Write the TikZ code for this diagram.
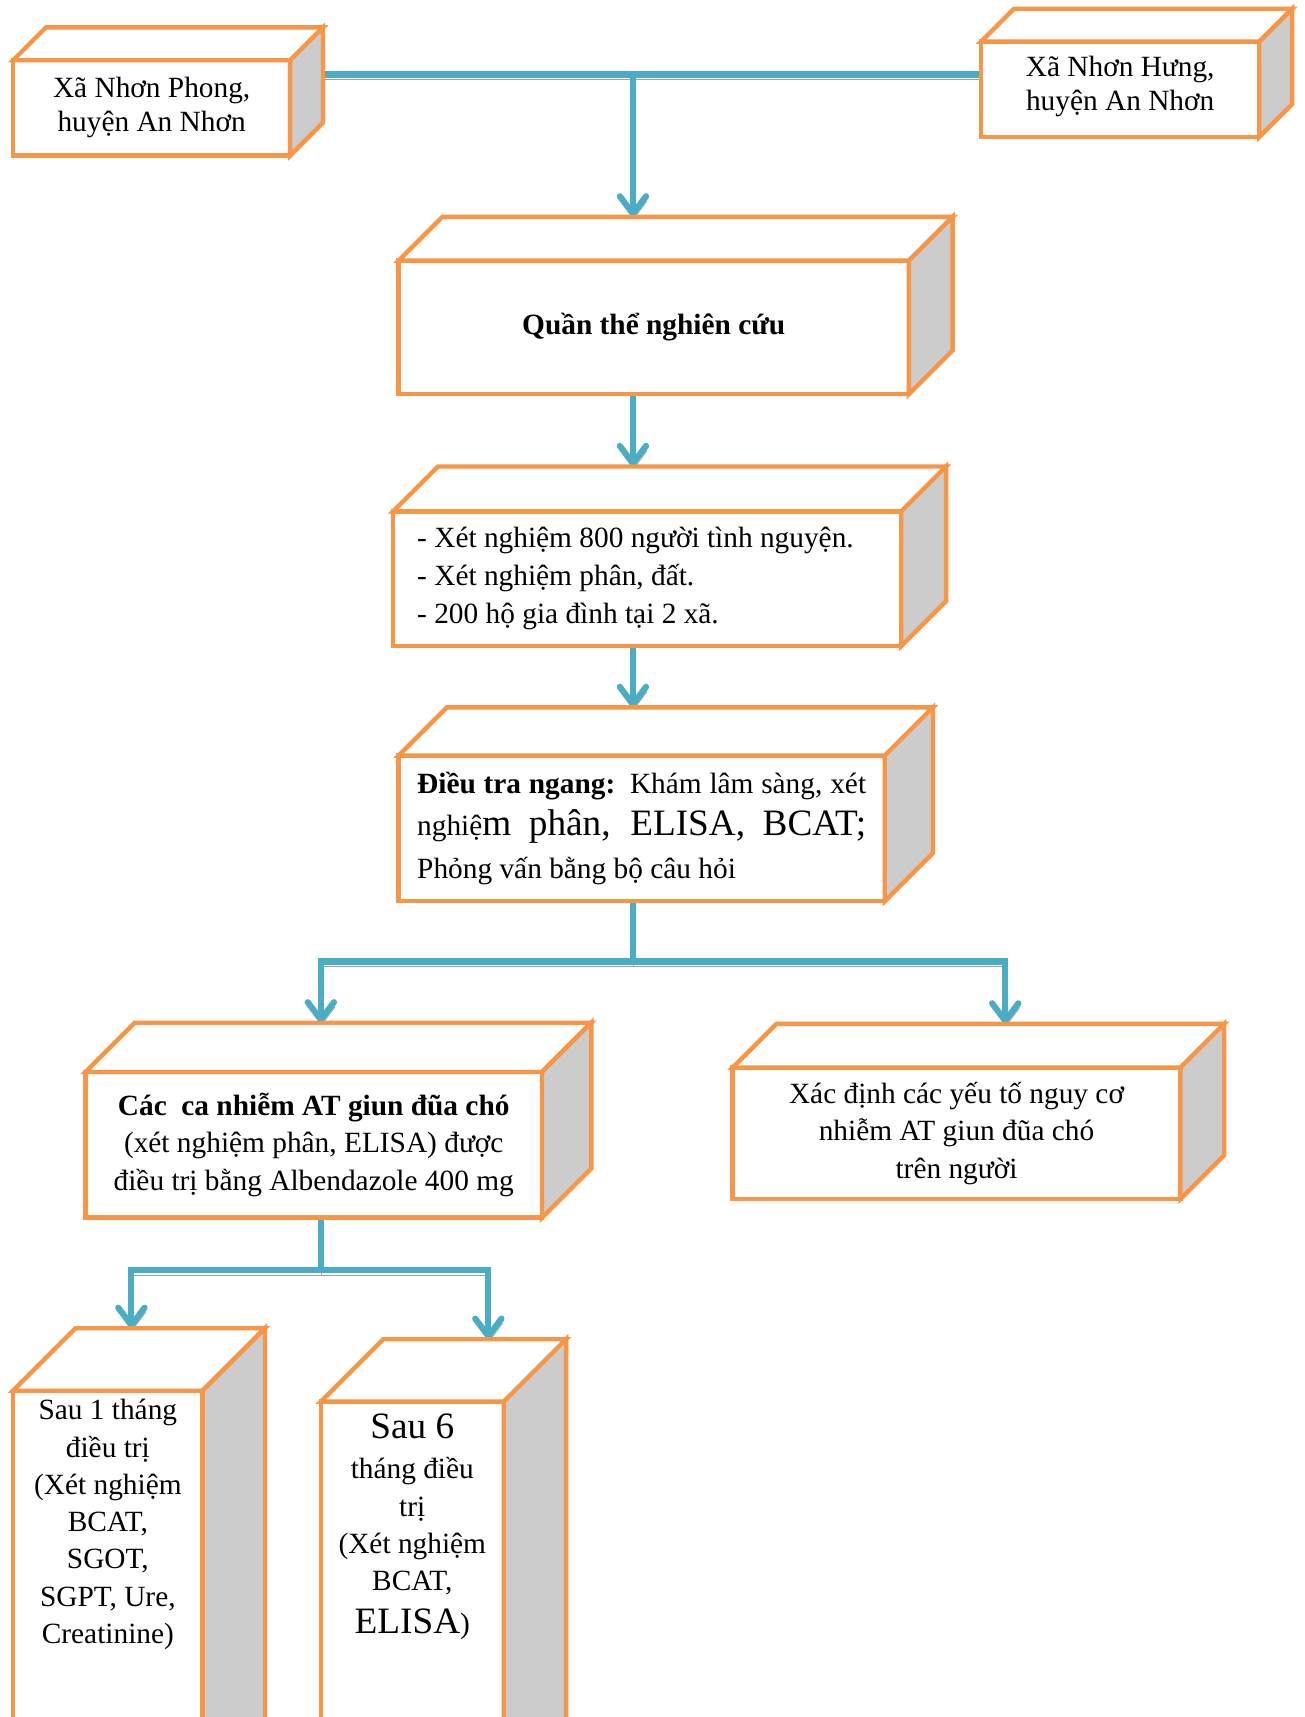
\documentclass[tikz,border=0pt]{standalone}
\usepackage{fontspec}
\setmainfont{Liberation Serif}
\usepackage{tikz}
\usetikzlibrary{arrows.meta}
\usetikzlibrary{positioning,calc,backgrounds}
\definecolor{boxorange}{HTML}{F79646}
\definecolor{linkblue}{HTML}{4BACC6}
\definecolor{sidegray}{HTML}{CCCCCC}
\definecolor{shadowgray}{HTML}{A0A0A0}
\tikzset{
    front/.style={
        draw=boxorange,
        line width=2pt,
        fill=white,
        rectangle,
        outer sep=0pt,
        inner sep=2pt,
        align=center,
        font=\fontsize{13.4}{17}\selectfont
    },
    face/.style={
        draw=boxorange,
        line width=2pt
    },
    link/.style={
        draw=linkblue,
        line width=2.8pt,
        preaction={draw=shadowgray, transform canvas={shift={(0.4pt,-2.2pt)}}}
    },
    tip/.style={
        -{Straight Barb[length=8pt, width=12pt, round]}
    }
}
% top and side face of a box, plus (name-top) on its back edge
\newcommand{\cubeside}[2]{%
    \draw[face, fill=white] (#1.north west) -- ++(#2,-#2) -- ($(#1.north east)+(#2,-#2)$) -- (#1.north east) -- cycle;
    \draw[face, fill=sidegray] (#1.north east) -- ($(#1.north east)+(#2,-#2)$) -- ($(#1.south east)+(#2,-#2)$) -- (#1.south east) -- cycle;
    \coordinate (#1-top) at ($(#1.north)+(#2,-#2)$);
}

\begin{document}
\begin{tikzpicture}[x=0.5pt, y=-0.5pt]
    \path[use as bounding box, clip] (0,0) rectangle (1191,1568);

    \node[front, minimum width=126.5pt, minimum height=43.5pt, font=\fontsize{13.4}{15.5}\selectfont] (phong) at (138.5,98.5) {Xã Nhơn Phong,\\huyện An Nhơn};
    \cubeside{phong}{30}
    \node[front, minimum width=127pt, minimum height=43.5pt, font=\fontsize{13.4}{15.5}\selectfont] (hung) at (1023,81.5) {Xã Nhơn Hưng,\\huyện An Nhơn\\[-10pt]};
    \cubeside{hung}{30}

    \node[front, minimum width=233pt, minimum height=61pt] (quanthe) at (597,299) {\raisebox{2pt}{\textbf{Quần thể nghiên cứu}}};
    \cubeside{quanthe}{40}

    \node[front, minimum width=232pt, minimum height=61.5pt, align=left, text width=210pt, font=\fontsize{13.4}{17.3}\selectfont] (khaosat) at (591,528.5) {\spaceskip=0pt\relax - Xét nghiệm 800 người tình nguyện.\\- Xét nghiệm phân, đất.\\- 200 hộ gia đình tại 2 xã.};
    \cubeside{khaosat}{41}

    \node[front, minimum width=222pt, minimum height=66.5pt, align=left, text width=205pt, font=\fontsize{13.4}{19.5}\selectfont] (dieutra) at (586,756.5) {\spaceskip=0pt\relax\makebox[205pt][s]{\textbf{Điều tra ngang:} Khám lâm sàng, xét}\\\makebox[205pt][s]{nghiệ{\fontsize{17}{19.5}\selectfont m phân, ELISA, BCAT;}}\\Phỏng vấn bằng bộ câu hỏi};
    \cubeside{dieutra}{44}

    \node[front, minimum width=208.5pt, minimum height=66.5pt] (caca) at (286.5,1045.5) {\textbf{Các\ \ ca nhiễm AT giun đũa chó}\\(xét nghiệm phân, ELISA) được\\điều trị bằng Albendazole 400 mg};
    \cubeside{caca}{45}

    \node[front, minimum width=204.5pt, minimum height=60pt] (yeuto) at (873.5,1035) {Xác định các yếu tố nguy cơ\\nhiễm AT giun đũa chó\\trên người};
    \cubeside{yeuto}{40}

    \node[front, anchor=north, minimum width=86.5pt, inner ysep=4pt, text depth=170pt] (sau1) at (98.5,1270) {Sau 1 tháng\\điều trị\\(Xét nghiệm\\BCAT,\\SGOT,\\SGPT, Ure,\\Creatinine)};
    \cubeside{sau1}{57}
    \node[front, anchor=north, minimum width=83.5pt, inner ysep=5.5pt, text depth=170pt] (sau6) at (376.5,1280) {{\fontsize{17}{19}\selectfont Sau 6}\\[1.5pt]tháng điều\\trị\\(Xét nghiệm\\BCAT,\\[2.5pt]{\fontsize{17}{19}\selectfont ELISA})};
    \cubeside{sau6}{57}

    \coordinate (j1) at (578,68);
    \coordinate (j2) at (578,878);
    \coordinate (j3) at (293,878);
    \coordinate (j4) at (918,878);
    \coordinate (j5) at (293,1160);
    \coordinate (j6) at (120,1160);
    \coordinate (j7) at (446,1160);

    \begin{scope}[on background layer]
        \draw[link] (phong.east |- j1) -- (hung.west |- j1);
        \draw[link, tip] (j1) -- (j1 |- quanthe-top);
        \draw[link, tip] (quanthe.south -| j1) -- (j1 |- khaosat-top);
        \draw[link, tip] (khaosat.south -| j1) -- (j1 |- dieutra-top);
        \draw[link] (dieutra.south -| j2) -- (j2);
        \draw[link, tip] (j2) -- (j3) -- (j3 |- caca-top);
        \draw[link, tip] (j2) -- (j4) -- (j4 |- yeuto-top);
        \draw[link] (caca.south -| j5) -- (j5);
        \draw[link, tip] (j5) -- (j6) -- (j6 |- sau1-top);
        \draw[link, tip] (j5) -- (j7) -- (j7 |- sau6-top);
    \end{scope}
\end{tikzpicture}
\end{document}
